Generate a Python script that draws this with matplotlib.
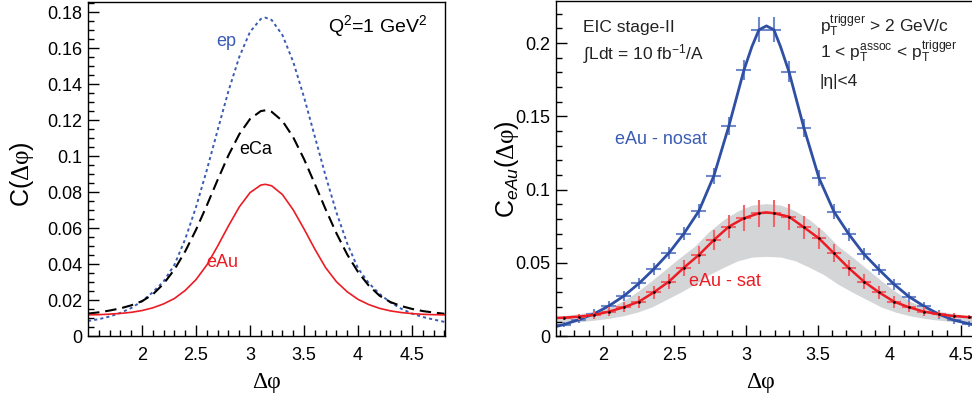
import numpy as np
from matplotlib import pyplot as plt
from matplotlib.ticker import MultipleLocator, FixedLocator, FormatStrFormatter

plt.rcParams['font.family'] = ['Liberation Sans', 'DejaVu Sans']
plt.rcParams['mathtext.fontset'] = 'custom'
plt.rcParams['mathtext.rm'] = 'Liberation Sans'
plt.rcParams['mathtext.it'] = 'Liberation Sans:italic'
plt.rcParams['mathtext.cal'] = 'Liberation Serif'

# ---- left panel: model curves at Q^2 = 1 GeV^2 ----
dphi = [1.5, 1.6, 1.7, 1.8, 1.9, 2.0, 2.1, 2.2, 2.3, 2.4, 2.5, 2.6, 2.7, 2.8, 2.9, 3.0, 3.1, 3.1416,
        3.2, 3.3, 3.4, 3.5, 3.6, 3.7, 3.8, 3.9, 4.0, 4.1, 4.2, 4.3, 4.4, 4.5, 4.6, 4.7, 4.8]
c_ep = [0.0085, 0.0095, 0.0110, 0.0130, 0.0157, 0.0195, 0.0245, 0.0305, 0.0397, 0.0540, 0.0718,
        0.0924, 0.1145, 0.1362, 0.1551, 0.1691, 0.1763, 0.1770,
        0.1757, 0.1673, 0.1524, 0.1328, 0.1109, 0.0890, 0.0688, 0.0515, 0.0377, 0.0295, 0.0235,
        0.0188, 0.0153, 0.0126, 0.0107, 0.0093, 0.0080]
c_eca = [0.0126, 0.0133, 0.0143, 0.0155, 0.0172, 0.0195, 0.0233, 0.0292, 0.0371, 0.0472, 0.0592,
         0.0727, 0.0869, 0.1005, 0.1122, 0.1207, 0.1251, 0.1255,
         0.1247, 0.1196, 0.1105, 0.0984, 0.0846, 0.0705, 0.0572, 0.0454, 0.0357, 0.0281, 0.0225,
         0.0190, 0.0168, 0.0152, 0.0140, 0.0132, 0.0125]
c_eau = [0.0119, 0.0120, 0.0123, 0.0127, 0.0133, 0.0143, 0.0158, 0.0180, 0.0210, 0.0255, 0.0315,
         0.0396, 0.0501, 0.0613, 0.0718, 0.0798, 0.0840, 0.0844,
         0.0836, 0.0787, 0.0702, 0.0596, 0.0484, 0.0381, 0.0303, 0.0247, 0.0205, 0.0176, 0.0155,
         0.0141, 0.0132, 0.0126, 0.0122, 0.0120, 0.0119]

# ---- right panel: eAu pseudo-data, stage-II ----
bin_x = [1.7279, 1.8326, 1.9373, 2.0420, 2.1468, 2.2515, 2.3562, 2.4609, 2.5656, 2.6704,
         2.7751, 2.8798, 2.9845, 3.0892, 3.1940, 3.2987, 3.4034, 3.5081, 3.6128, 3.7176,
         3.8223, 3.9270, 4.0317, 4.1364, 4.2412, 4.3459, 4.4506, 4.5553]
bin_half = 0.052
nosat_y = [0.0080, 0.0113, 0.0153, 0.0207, 0.0275, 0.0360, 0.0459, 0.0568, 0.0700, 0.0855,
           0.1095, 0.1435, 0.1815, 0.2090, 0.2090, 0.1805, 0.1420, 0.1080, 0.0850, 0.0695,
           0.0560, 0.0455, 0.0355, 0.0270, 0.0205, 0.0150, 0.0110, 0.0085]
nosat_err = [0.0020, 0.0025, 0.0030, 0.0032, 0.0035, 0.0038, 0.0040, 0.0042, 0.0045, 0.0050,
             0.0055, 0.0060, 0.0070, 0.0085, 0.0085, 0.0070, 0.0060, 0.0055, 0.0050, 0.0045,
             0.0042, 0.0040, 0.0038, 0.0035, 0.0032, 0.0030, 0.0025, 0.0020]
sat_y = [0.0123, 0.0134, 0.0145, 0.0168, 0.0198, 0.0236, 0.0300, 0.0373, 0.0468, 0.0555,
         0.0657, 0.0748, 0.0805, 0.0839, 0.0839, 0.0816, 0.0743, 0.0668, 0.0566, 0.0464,
         0.0373, 0.0300, 0.0236, 0.0198, 0.0168, 0.0150, 0.0138, 0.0130]
sat_err = [0.0015, 0.0020, 0.0025, 0.0030, 0.0034, 0.0040, 0.0045, 0.0050, 0.0055, 0.0060,
           0.0070, 0.0080, 0.0088, 0.0093, 0.0093, 0.0088, 0.0080, 0.0070, 0.0060, 0.0055,
           0.0050, 0.0045, 0.0040, 0.0034, 0.0030, 0.0025, 0.0020, 0.0015]

# fit curves through the pseudo-data
nosat_fit_x = [1.671, 1.7279, 1.8326, 1.9373, 2.0420, 2.1468, 2.2515, 2.3562, 2.4609, 2.5656,
               2.6704, 2.7751, 2.8798, 2.9845, 3.04, 3.0892, 3.1416, 3.1940, 3.24, 3.2987,
               3.4034, 3.5081, 3.6128, 3.7176, 3.8223, 3.9270, 4.0317, 4.1364, 4.2412, 4.3459,
               4.4506, 4.5553, 4.612]
nosat_fit_y = [0.0066, 0.0080, 0.0113, 0.0153, 0.0207, 0.0275, 0.0360, 0.0459, 0.0568, 0.0700,
               0.0855, 0.1095, 0.1435, 0.1815, 0.1975, 0.2090, 0.2117, 0.2090, 0.1975, 0.1805,
               0.1420, 0.1080, 0.0850, 0.0695, 0.0560, 0.0455, 0.0355, 0.0270, 0.0205, 0.0150,
               0.0110, 0.0085, 0.0072]
sat_fit_x = [1.671, 1.7279, 1.8326, 1.9373, 2.0420, 2.1468, 2.2515, 2.3562, 2.4609, 2.5656,
             2.6704, 2.7751, 2.8798, 2.9845, 3.0892, 3.1416, 3.1940, 3.2987, 3.4034, 3.5081,
             3.6128, 3.7176, 3.8223, 3.9270, 4.0317, 4.1364, 4.2412, 4.3459, 4.4506, 4.5553,
             4.612]
sat_fit_y = [0.0125, 0.0127, 0.0134, 0.0145, 0.0168, 0.0198, 0.0236, 0.0300, 0.0373, 0.0468,
             0.0555, 0.0657, 0.0748, 0.0805, 0.0839, 0.0845, 0.0839, 0.0816, 0.0743, 0.0668,
             0.0566, 0.0464, 0.0373, 0.0300, 0.0236, 0.0198, 0.0168, 0.0150, 0.0138, 0.0130,
             0.0128]

# systematic band
band_x = [1.672, 1.742, 1.842, 1.942, 2.042, 2.142, 2.242, 2.342, 2.442, 2.542, 2.642, 2.742,
          2.842, 2.942, 3.042, 3.142, 3.242, 3.342, 3.442, 3.542, 3.642, 3.742, 3.842, 3.942,
          4.042, 4.142, 4.242, 4.342, 4.442, 4.542, 4.612]
band_lo = [0.0090, 0.0093, 0.0100, 0.0110, 0.0122, 0.0140, 0.0165, 0.0200, 0.0250, 0.0300,
           0.0355, 0.0420, 0.0470, 0.0515, 0.0540, 0.0545, 0.0540, 0.0515, 0.0470, 0.0420,
           0.0355, 0.0300, 0.0250, 0.0200, 0.0165, 0.0140, 0.0122, 0.0110, 0.0100, 0.0093,
           0.0090]
band_hi = [0.0135, 0.0142, 0.0155, 0.0170, 0.0195, 0.0240, 0.0305, 0.0380, 0.0460, 0.0540,
           0.0615, 0.0715, 0.0795, 0.0855, 0.0895, 0.0905, 0.0895, 0.0855, 0.0795, 0.0715,
           0.0615, 0.0540, 0.0460, 0.0380, 0.0305, 0.0240, 0.0195, 0.0170, 0.0155, 0.0142,
           0.0135]

BLUE = '#3b5cb4'
RED = '#ec1c24'
XLAB = 'Δφ'


def style_axes(ax, ymajor, yminor, xlim, ylim):
    ax.set_xlim(*xlim)
    ax.set_ylim(*ylim)
    ax.xaxis.set_major_locator(FixedLocator([2, 2.5, 3, 3.5, 4, 4.5]))
    ax.xaxis.set_minor_locator(MultipleLocator(0.1))
    ax.yaxis.set_major_locator(MultipleLocator(ymajor))
    ax.yaxis.set_minor_locator(MultipleLocator(yminor))
    ax.xaxis.set_major_formatter(FormatStrFormatter('%g'))
    ax.yaxis.set_major_formatter(FormatStrFormatter('%g'))
    ax.tick_params(which='both', direction='in', top=False, right=False, labelsize=13, width=1.0)
    ax.tick_params(which='major', length=8)
    ax.tick_params(which='minor', length=4)
    ax.tick_params(axis='x', pad=8)
    ax.tick_params(axis='y', pad=4)
    for sp in ax.spines.values():
        sp.set_linewidth(1.0)


fig = plt.figure(figsize=(9.72, 4.0), dpi=100)

# left
ax1 = fig.add_axes([0.0908, 0.1593, 0.367, 0.8358])
ax1.plot(dphi, c_ep, color=BLUE, lw=1.4, ls=(0, (1.6, 1.6)))
ax1.plot(dphi, c_eca, color='black', lw=1.5, ls=(0, (5.5, 2.8)))
ax1.plot(dphi, c_eau, color=RED, lw=1.2)
style_axes(ax1, 0.02, 0.005, (1.502, 4.805), (0, 0.1857))
ax1.text(2.78, 0.1635, 'ep', color=BLUE, fontsize=13, ha='center', va='center')
ax1.text(3.05, 0.1035, 'eCa', color='black', fontsize=13, ha='center', va='center')
ax1.text(2.74, 0.041, 'eAu', color=RED, fontsize=13, ha='center', va='center')
ax1.text(0.95, 0.911, r'Q$^{2}$=1 GeV$^{2}$', transform=ax1.transAxes, fontsize=14,
         ha='right', va='baseline')
ax1.set_xlabel(XLAB, family='Liberation Serif', fontsize=17, va='top')
ax1.xaxis.set_label_coords(0.5, -0.107)
ax1.set_ylabel(r'C$\mathregular{(}\mathcal{Δφ}\mathregular{)}$', fontsize=18, va='center')
ax1.yaxis.set_label_coords(-0.186, 0.485)

# right
ax2 = fig.add_axes([0.5717, 0.1593, 0.4336, 0.8383])
ax2.fill_between(band_x, band_lo, band_hi, color='#d4d5d7', lw=0)
ax2.errorbar(bin_x, nosat_y, xerr=bin_half, yerr=nosat_err, fmt='none',
             ecolor='#6f89cb', elinewidth=1.5, capsize=0)
ax2.plot(nosat_fit_x, nosat_fit_y, color='#2e4fa3', lw=2.0)
ax2.errorbar(bin_x, sat_y, xerr=bin_half, yerr=sat_err, fmt='none',
             ecolor='#f0646a', elinewidth=1.5, capsize=0)
ax2.plot(sat_fit_x, sat_fit_y, color=RED, lw=1.8)
ax2.plot(bin_x, sat_y, ls='none', marker='.', ms=1.8, color='black')
style_axes(ax2, 0.05, 0.01, (1.671, 4.612), (0, 0.2287))

ax2.text(2.407, 0.134, 'eAu - nosat', color='#3b5cb4', fontsize=13, ha='center', va='center')
ax2.text(2.853, 0.0377, 'eAu - sat', color=RED, fontsize=13, ha='center', va='center')
ax2.text(0.065, 0.908, 'EIC stage-II', transform=ax2.transAxes, fontsize=12.5,
         va='baseline', color='#222222')
ax2.text(0.065, 0.827, r'∫Ldt = 10 fb$^{-1}$/A', transform=ax2.transAxes, fontsize=12.5,
         va='baseline', color='#222222')
ax2.text(0.627, 0.9075, r'$\mathregular{p_{T}^{trigger}}$ > 2 GeV/c', transform=ax2.transAxes,
         fontsize=12.5, va='baseline', color='#222222')
ax2.text(0.627, 0.83, r'1 < $\mathregular{p_{T}^{assoc}}$ < $\mathregular{p_{T}^{trigger}}$',
         transform=ax2.transAxes, fontsize=12.5, va='baseline', color='#222222')
ax2.text(0.627, 0.7465, '|η|<4', transform=ax2.transAxes, fontsize=12.5,
         va='baseline', color='#222222')
ax2.set_xlabel(XLAB, family='Liberation Serif', fontsize=17, va='top')
ax2.xaxis.set_label_coords(0.485, -0.107)
ax2.set_ylabel(r'C$_{\mathit{eAu}}\mathregular{(}\mathcal{Δφ}\mathregular{)}$', fontsize=18,
               va='center')
ax2.yaxis.set_label_coords(-0.1155, 0.5)

fig.savefig('out.png', dpi=100)
